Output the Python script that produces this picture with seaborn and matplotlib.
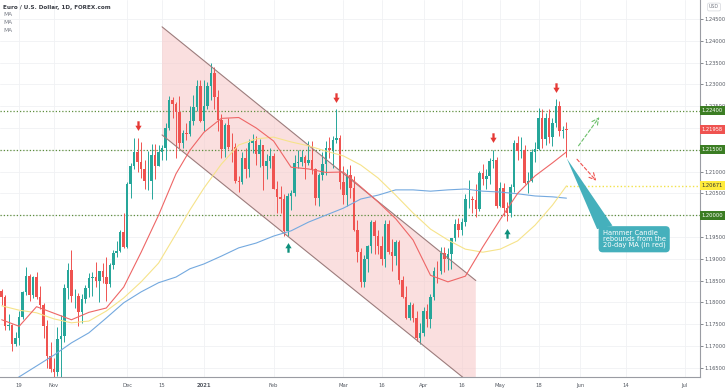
import numpy as np
import pandas as pd
import matplotlib
matplotlib.use("Agg")
import matplotlib.pyplot as plt
import matplotlib.transforms as mtransforms
from matplotlib.path import Path
from matplotlib.patches import Polygon
import seaborn as sns

sns.set_theme(style="white")
plt.rcParams['font.family'] = ['DejaVu Sans']

# trading days (FX, no bars on Dec 25 / Jan 1)
dates = pd.bdate_range('2020-10-12', '2021-05-28')
dates = dates[~dates.isin(pd.to_datetime(['2020-12-25', '2021-01-01']))]

opens = [1.1826, 1.1813, 1.1746, 1.1748, 1.1705, 1.1718, 1.1767, 1.1823, 1.1860, 1.1816,
         1.1859, 1.1812, 1.1795, 1.1746, 1.1676, 1.1647, 1.1641, 1.1716, 1.1723, 1.1832,
         1.1874, 1.1814, 1.1815, 1.1777, 1.1808, 1.1834, 1.1855, 1.1857, 1.1850, 1.1872,
         1.1857, 1.1841, 1.1886, 1.1914, 1.1918, 1.1962, 1.1927, 1.2072, 1.2113, 1.2146,
         1.2121, 1.2106, 1.2078, 1.2079, 1.2137, 1.2113, 1.2146, 1.2154, 1.2199, 1.2264,
         1.2255, 1.2237, 1.2165, 1.2188, 1.2186, 1.2215, 1.2248, 1.2297, 1.2216, 1.2250,
         1.2297, 1.2325, 1.2271, 1.2219, 1.2151, 1.2206, 1.2157, 1.2156, 1.2078, 1.2075,
         1.2132, 1.2106, 1.2165, 1.2171, 1.2140, 1.2160, 1.2113, 1.2124, 1.2136, 1.2061,
         1.2042, 1.2037, 1.1963, 1.2045, 1.2050, 1.2119, 1.2121, 1.2133, 1.2120, 1.2127,
         1.2105, 1.2039, 1.2093, 1.2118, 1.2155, 1.2150, 1.2172, 1.2176, 1.2075, 1.2047,
         1.2091, 1.2063, 1.1967, 1.1916, 1.1847, 1.1900, 1.1929, 1.1984, 1.1952, 1.1929,
         1.1900, 1.1980, 1.1915, 1.1906, 1.1938, 1.1851, 1.1813, 1.1763, 1.1793, 1.1765,
         1.1718, 1.1729, 1.1780, 1.1761, 1.1813, 1.1873, 1.1871, 1.1914, 1.1900, 1.1912,
         1.1947, 1.1979, 1.1966, 1.1984, 1.2036, 1.2037, 1.2035, 1.2013, 1.2097, 1.2083,
         1.2089, 1.2125, 1.2127, 1.2020, 1.2062, 1.2016, 1.2005, 1.2065, 1.2165, 1.2147,
         1.2150, 1.2074, 1.2079, 1.2144, 1.2152, 1.2222, 1.2174, 1.2224, 1.2180, 1.2212,
         1.2250, 1.2193, 1.2198]
highs = [1.1831, 1.1816, 1.1773, 1.1750, 1.1733, 1.1779, 1.1826, 1.1881, 1.1865, 1.1860,
         1.1870, 1.1837, 1.1799, 1.1760, 1.1708, 1.1673, 1.1744, 1.1770, 1.1843, 1.1891,
         1.1920, 1.1831, 1.1822, 1.1818, 1.1840, 1.1867, 1.1870, 1.1892, 1.1873, 1.1891,
         1.1905, 1.1890, 1.1920, 1.1941, 1.1967, 1.2004, 1.2077, 1.2120, 1.2176, 1.2178,
         1.2167, 1.2127, 1.2147, 1.2164, 1.2163, 1.2162, 1.2160, 1.2211, 1.2273, 1.2272,
         1.2259, 1.2273, 1.2196, 1.2212, 1.2251, 1.2276, 1.2310, 1.2310, 1.2310, 1.2306,
         1.2349, 1.2340, 1.2288, 1.2232, 1.2212, 1.2223, 1.2189, 1.2165, 1.2090, 1.2145,
         1.2153, 1.2175, 1.2187, 1.2181, 1.2175, 1.2160, 1.2141, 1.2155, 1.2142, 1.2078,
         1.2067, 1.2048, 1.2050, 1.2058, 1.2138, 1.2149, 1.2150, 1.2139, 1.2170, 1.2169,
         1.2109, 1.2097, 1.2145, 1.2169, 1.2180, 1.2181, 1.2243, 1.2183, 1.2113, 1.2107,
         1.2114, 1.2089, 1.1990, 1.1925, 1.1909, 1.1931, 1.1990, 1.1990, 1.1965, 1.1952,
         1.1989, 1.1990, 1.1945, 1.1942, 1.1942, 1.1861, 1.1837, 1.1800, 1.1799, 1.1779,
         1.1753, 1.1790, 1.1796, 1.1820, 1.1880, 1.1895, 1.1927, 1.1928, 1.1925, 1.1945,
         1.1992, 1.1994, 1.1994, 1.2048, 1.2080, 1.2043, 1.2071, 1.2101, 1.2117, 1.2107,
         1.2130, 1.2150, 1.2133, 1.2077, 1.2073, 1.2030, 1.2071, 1.2172, 1.2181, 1.2180,
         1.2160, 1.2098, 1.2152, 1.2167, 1.2245, 1.2244, 1.2234, 1.2243, 1.2223, 1.2266,
         1.2262, 1.2205, 1.2214]
lows = [1.1794, 1.1737, 1.1737, 1.1688, 1.1700, 1.1703, 1.1761, 1.1816, 1.1802, 1.1810,
        1.1807, 1.1784, 1.1718, 1.1650, 1.1640, 1.1622, 1.1631, 1.1603, 1.1710, 1.1808,
        1.1800, 1.1788, 1.1746, 1.1753, 1.1798, 1.1813, 1.1814, 1.1835, 1.1801, 1.1845,
        1.1802, 1.1836, 1.1876, 1.1904, 1.1915, 1.1925, 1.1925, 1.2039, 1.2107, 1.2100,
        1.2086, 1.2059, 1.2058, 1.2037, 1.2084, 1.2112, 1.2126, 1.2126, 1.2195, 1.2222,
        1.2132, 1.2155, 1.2153, 1.2172, 1.2182, 1.2206, 1.2240, 1.2213, 1.2193, 1.2244,
        1.2264, 1.2243, 1.2192, 1.2131, 1.2133, 1.2152, 1.2123, 1.2074, 1.2054, 1.2071,
        1.2086, 1.2088, 1.2143, 1.2116, 1.2110, 1.2058, 1.2083, 1.2108, 1.2061, 1.2006,
        1.2004, 1.1953, 1.1952, 1.2011, 1.2045, 1.2108, 1.2113, 1.2084, 1.2114, 1.2095,
        1.2023, 1.2022, 1.2081, 1.2091, 1.2132, 1.2108, 1.2166, 1.2061, 1.2026, 1.2020,
        1.2039, 1.1963, 1.1893, 1.1836, 1.1835, 1.1870, 1.1914, 1.1910, 1.1910, 1.1885,
        1.1882, 1.1910, 1.1873, 1.1885, 1.1843, 1.1810, 1.1762, 1.1760, 1.1756, 1.1712,
        1.1704, 1.1722, 1.1744, 1.1740, 1.1805, 1.1845, 1.1865, 1.1870, 1.1875, 1.1877,
        1.1940, 1.1950, 1.1955, 1.1976, 1.2017, 1.2004, 1.1995, 1.2010, 1.2070, 1.2060,
        1.2071, 1.2109, 1.2017, 1.2019, 1.1999, 1.1986, 1.1995, 1.2053, 1.2126, 1.2130,
        1.2071, 1.2051, 1.2077, 1.2122, 1.2150, 1.2153, 1.2161, 1.2166, 1.2158, 1.2203,
        1.2182, 1.2176, 1.2133]
closes = [1.1813, 1.1746, 1.1748, 1.1705, 1.1718, 1.1767, 1.1823, 1.1860, 1.1816, 1.1859,
          1.1812, 1.1795, 1.1746, 1.1676, 1.1647, 1.1641, 1.1716, 1.1723, 1.1832, 1.1874,
          1.1814, 1.1815, 1.1777, 1.1808, 1.1834, 1.1855, 1.1857, 1.1850, 1.1872, 1.1857,
          1.1841, 1.1886, 1.1914, 1.1918, 1.1962, 1.1927, 1.2072, 1.2113, 1.2146, 1.2121,
          1.2106, 1.2078, 1.2079, 1.2137, 1.2113, 1.2146, 1.2154, 1.2199, 1.2264, 1.2255,
          1.2237, 1.2165, 1.2188, 1.2186, 1.2215, 1.2248, 1.2297, 1.2216, 1.2250, 1.2297,
          1.2325, 1.2271, 1.2219, 1.2151, 1.2206, 1.2157, 1.2156, 1.2078, 1.2075, 1.2132,
          1.2106, 1.2165, 1.2171, 1.2140, 1.2160, 1.2113, 1.2124, 1.2136, 1.2061, 1.2042,
          1.2037, 1.1963, 1.2045, 1.2050, 1.2119, 1.2121, 1.2133, 1.2120, 1.2127, 1.2105,
          1.2039, 1.2093, 1.2118, 1.2155, 1.2150, 1.2172, 1.2176, 1.2075, 1.2047, 1.2091,
          1.2063, 1.1967, 1.1916, 1.1847, 1.1900, 1.1929, 1.1984, 1.1952, 1.1929, 1.1900,
          1.1980, 1.1915, 1.1906, 1.1938, 1.1851, 1.1813, 1.1763, 1.1793, 1.1765, 1.1718,
          1.1729, 1.1780, 1.1761, 1.1813, 1.1873, 1.1871, 1.1914, 1.1900, 1.1912, 1.1947,
          1.1979, 1.1966, 1.1984, 1.2036, 1.2037, 1.2035, 1.2013, 1.2097, 1.2083, 1.2089,
          1.2125, 1.2127, 1.2020, 1.2062, 1.2016, 1.2005, 1.2065, 1.2165, 1.2147, 1.2150,
          1.2074, 1.2079, 1.2144, 1.2152, 1.2222, 1.2174, 1.2224, 1.2180, 1.2212, 1.2250,
          1.2193, 1.2195, 1.21958]

# moving averages (weekly points)
ma_dates = ['2020-10-12', '2020-10-19', '2020-10-26', '2020-11-02', '2020-11-09', '2020-11-16',
            '2020-11-23', '2020-11-30', '2020-12-07', '2020-12-14', '2020-12-21', '2020-12-28',
            '2021-01-04', '2021-01-11', '2021-01-18', '2021-01-25', '2021-02-01', '2021-02-08',
            '2021-02-15', '2021-02-22', '2021-03-01', '2021-03-08', '2021-03-15', '2021-03-22',
            '2021-03-29', '2021-04-05', '2021-04-12', '2021-04-19', '2021-04-26', '2021-05-03',
            '2021-05-10', '2021-05-17', '2021-05-24', '2021-05-28']
ma_red = [1.1760, 1.1745, 1.1790, 1.1775, 1.1760, 1.1777, 1.1787, 1.1835, 1.1915, 1.2000,
          1.2095, 1.2149, 1.2190, 1.2222, 1.2224, 1.2200, 1.2170, 1.2110, 1.2106, 1.2098,
          1.2099, 1.2065, 1.2030, 1.1992, 1.1943, 1.1862, 1.1847, 1.1860, 1.1927, 1.1990,
          1.2050, 1.2090, 1.2120, 1.2145]
ma_yellow = [1.1792, 1.1782, 1.1776, 1.1762, 1.1753, 1.1757, 1.1780, 1.1810, 1.1847, 1.1890,
             1.1957, 1.2012, 1.2062, 1.2117, 1.2161, 1.2175, 1.2179, 1.2168, 1.2159, 1.2147,
             1.2136, 1.2115, 1.2085, 1.2046, 1.2005, 1.1968, 1.1943, 1.1922, 1.1915, 1.1922,
             1.1941, 1.1977, 1.2023, 1.20671]
ma_blue = [1.1604, 1.1629, 1.1654, 1.1679, 1.1707, 1.1730, 1.1764, 1.1799, 1.1824, 1.1845,
           1.1858, 1.1877, 1.1888, 1.1906, 1.1925, 1.1936, 1.1952, 1.1964, 1.1984, 1.2000,
           1.2016, 1.2037, 1.2046, 1.2058, 1.2058, 1.2055, 1.2058, 1.2060, 1.2055, 1.2053,
           1.2049, 1.2044, 1.2042, 1.2039]

levels = [1.22400, 1.21500, 1.20000]
last_price = 1.21958
yellow_level = 1.20671

tick_dates = ['2020-10-19', '2020-11-02', '2020-12-01', '2020-12-15', '2021-01-04', '2021-02-01',
              '2021-03-01', '2021-03-16', '2021-04-01', '2021-04-16', '2021-05-03', '2021-05-18',
              '2021-06-01', '2021-06-14', '2021-07-01']
tick_labels = ['19', 'Nov', 'Dec', '15', '2021', 'Feb', 'Mar', '16', 'Apr', '16', 'May', '18',
               'Jun', '14', 'Jul']

sell_dates = ['2020-12-04', '2021-02-25', '2021-04-29', '2021-05-25']
buy_dates = ['2021-02-05', '2021-05-05']

channel_dates = ['2020-12-15', '2021-04-22']
channel_upper = [1.2432, 1.1850]
channel_lower = [1.2184, 1.1604]


def xpos(d):
    d = pd.Timestamp(d)
    if d <= dates[-1]:
        return float(dates.get_indexer([d], method='nearest')[0])
    # future area: one slot per calendar day
    return float(len(dates) - 1 + (d - dates[-1]).days)


GREEN, RED = '#26a69a', '#ef5350'
W, H = 728, 391
fig = plt.figure(figsize=(W / 100, H / 100), dpi=100)
ax = fig.add_axes([0, 13.7 / H, 700 / W, 377.3 / H])

px_per_bar = 3.486
x0 = -0.49
ax.set_xlim(x0, x0 + 700 / px_per_bar)
ax.set_ylim(1.16280, 1.24936)

# grid
yt = np.arange(1.165, 1.2451, 0.005)
xt = [xpos(d) for d in tick_dates]
for v in yt:
    ax.axhline(v, color='#f0f1f4', lw=0.6, zorder=0)
for v in xt:
    ax.axvline(v, color='#f0f1f4', lw=0.6, zorder=0)

# channel
cx = [xpos(d) for d in channel_dates]
ax.add_patch(Polygon([(cx[0], channel_upper[0]), (cx[1], channel_upper[1]),
                      (cx[1], channel_lower[1]), (cx[0], channel_lower[0])],
                     closed=True, fc='#f7c6c6', ec='none', alpha=0.55, zorder=1))
ax.plot(cx, channel_upper, color='#9c7c7c', lw=0.8, zorder=4)
ax.plot(cx, channel_lower, color='#9c7c7c', lw=0.8, zorder=4)

# level lines
for lv in levels:
    ax.axhline(lv, color='#5f8f3e', lw=0.9, ls=(0, (1, 1.6)), zorder=2)
ax.plot([xpos(dates[-1]), ax.get_xlim()[1]], [yellow_level, yellow_level],
        color='#f2e24a', lw=1.0, ls=(0, (1, 1.6)), zorder=2)

# candles
o, h, l, c = map(np.array, (opens, highs, lows, closes))
x = np.arange(len(dates))
cols = np.where(c >= o, GREEN, RED)
ax.vlines(x, l, h, colors=cols, lw=0.7, zorder=3)
body = np.maximum(np.abs(c - o), 0.00012)
ax.bar(x, body, bottom=np.minimum(o, c), width=0.72, color=cols, lw=0, zorder=3)

# moving averages
mx = [xpos(d) for d in ma_dates]
sns.lineplot(x=mx, y=ma_blue, ax=ax, color='#74a9df', lw=0.8, zorder=4)
sns.lineplot(x=mx, y=ma_yellow, ax=ax, color='#f6e38a', lw=0.8, zorder=4)
sns.lineplot(x=mx, y=ma_red, ax=ax, color='#ee6666', lw=0.8, zorder=4)

# block arrows
down = Path([(-0.22, 1), (0.22, 1), (0.22, 0.15), (0.6, 0.15), (0, -0.85), (-0.6, 0.15),
             (-0.22, 0.15), (-0.22, 1)], closed=True)
up = Path([(vx, -vy) for vx, vy in down.vertices], closed=True)
off = 0.0026
for d in sell_dates:
    i = int(xpos(d))
    ax.plot(i, h[i] + off, marker=down, ms=7.5, color='#e53935', mew=0, zorder=6)
for d in buy_dates:
    i = int(xpos(d))
    ax.plot(i, l[i] - off, marker=up, ms=7.5, color='#0d8f7b', mew=0, zorder=6)

# projected scenarios
ax.annotate('', xy=(171.9, 1.2230), xytext=(165.0, 1.2154),
            arrowprops=dict(arrowstyle='->', ls=(0, (3, 2)), color='#6cbf6a', lw=0.8), zorder=6)
ax.annotate('', xy=(171.1, 1.2074), xytext=(164.5, 1.2133),
            arrowprops=dict(arrowstyle='->', ls=(0, (3, 2)), color='#ef5350', lw=0.8), zorder=6)

# callout
teal = '#45b0bc'
ax.add_patch(Polygon([(162.1, 1.2130), (170.8, 1.1968), (175.2, 1.1976)], closed=True,
                     fc=teal, ec='none', zorder=7))
ax.text(172.4, 1.19453, 'Hammer Candle\nrebounds from the\n20-day MA (in red)', fontsize=4.9,
        color='white', ha='left', va='center', linespacing=1.0, zorder=8,
        bbox=dict(boxstyle='round,pad=0.6,rounding_size=0.6', fc=teal, ec='none'))

# axes styling
for s in ['left', 'top']:
    ax.spines[s].set_visible(False)
for s in ['right', 'bottom']:
    ax.spines[s].set_color('#9a9ca3')
    ax.spines[s].set_linewidth(0.8)
ax.yaxis.tick_right()
ax.set_yticks(yt)
# labels hidden behind the coloured price tags
covered = {'1.22000', '1.21500', '1.20000'}
ax.set_yticklabels(['' if f'{v:.5f}' in covered else f'{v:.5f}' for v in yt])
ax.set_xticks(xt)
ax.set_xticklabels(tick_labels)
for t in ax.get_xticklabels():
    if t.get_text() == '2021':
        t.set_fontweight('bold')
ax.tick_params(axis='y', length=2, width=0.5, pad=1.5, labelsize=3.7, colors='#555a63')
ax.tick_params(axis='x', length=2, width=0.5, pad=2, labelsize=3.8, colors='#555a63')
ax.set_xlabel('')
ax.set_ylabel('')

# price labels on the axis
trans = mtransforms.blended_transform_factory(ax.transAxes, ax.transData)
tags = [(1.22400, '#3b7d23', 'white'), (last_price, '#ef5350', 'white'),
        (1.21500, '#3b7d23', 'white'), (yellow_level, '#ffeb3b', '#333333'),
        (1.20000, '#3b7d23', 'white')]
for val, fc, tc in tags:
    ax.text(1.0025, val, f'{val:.5f}', transform=trans, fontsize=3.7, color=tc, ha='left',
            va='center', zorder=10, clip_on=False,
            bbox=dict(boxstyle='square,pad=0.4', fc=fc, ec='none'))

fig.text(3 / W, 1 - 7 / H, 'Euro / U.S. Dollar, 1D, FOREX.com', fontsize=4.1, fontweight='bold',
         color='#3a3d45', va='center', ha='left')
for k in range(3):
    fig.text(3 / W, 1 - (15 + 8 * k) / H, 'MA', fontsize=4.2, color='#777b85', va='center',
             ha='left')
fig.text(714 / W, 1 - 7 / H, 'USD', fontsize=3.4, color='#777b85', va='center', ha='center',
         bbox=dict(boxstyle='round,pad=0.3', fc='white', ec='#d4d6dc', lw=0.5))

fig.savefig('out.png', dpi=100)
